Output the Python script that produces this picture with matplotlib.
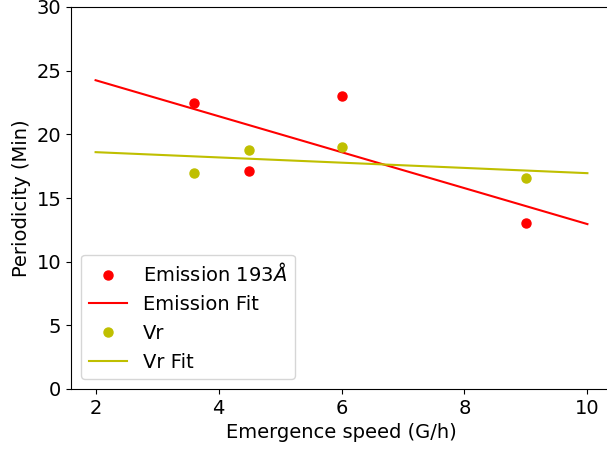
import matplotlib
matplotlib.use('Agg')
import matplotlib.pyplot as plt

# values
speed = [3.6, 4.5, 6.0, 9.0]
emission = [22.5, 17.1, 23.0, 13.0]
vr = [17.0, 18.8, 19.0, 16.6]

fit_x = [2, 10]
emission_fit = [24.25, 12.95]
vr_fit = [18.6, 16.95]

fig = plt.figure(figsize=(6.07, 4.49), dpi=100)
ax = fig.add_axes([71 / 607, 60 / 449, 541 / 607, 382 / 449])

ax.plot(speed, emission, 'ro', markersize=6.5, label=r'Emission 193$\AA$')
ax.plot(fit_x, emission_fit, 'r-', label='Emission Fit')
ax.plot(speed, vr, 'yo', markersize=6.5, label='Vr')
ax.plot(fit_x, vr_fit, 'y-', label='Vr Fit')

ax.set_xlim(1.6, 10.4)
ax.set_ylim(0, 30)
ax.set_xticks([2, 4, 6, 8, 10])
ax.tick_params(labelsize=14)
ax.set_xlabel('Emergence speed (G/h)', fontsize=14)
ax.set_ylabel('Periodicity (Min)', fontsize=14)
ax.legend(loc='lower left', fontsize=14)

fig.savefig('out.png', dpi=100)
